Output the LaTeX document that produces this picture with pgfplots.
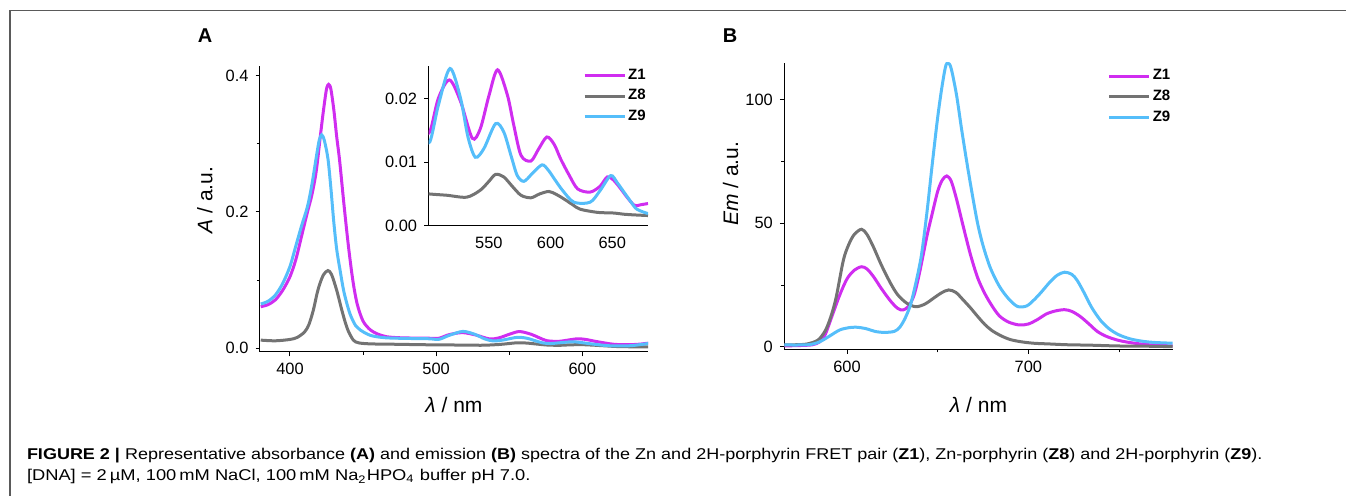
\documentclass[border=0pt]{standalone}
\usepackage{fontspec}
\setmainfont{Liberation Sans}
\usepackage{graphicx}
\usepackage{pgfplots}
\pgfplotsset{compat=1.18}
\usepackage{pgfplotstable}

\definecolor{zone}{RGB}{208,45,240}
\definecolor{zeight}{RGB}{115,115,115}
\definecolor{znine}{RGB}{85,190,250}

% absorbance (A)
\pgfplotstableread{
nm a
380 0.061
385 0.064
390 0.071
395 0.085
400 0.105
404 0.130
408 0.165
412 0.200
415 0.225
418 0.260
421 0.315
423 0.350
425 0.380
426.5 0.387
428 0.380
430 0.350
432 0.310
434 0.275
437 0.210
440 0.150
443 0.100
446 0.065
450 0.040
455 0.027
460 0.021
466 0.017
475 0.0155
485 0.015
495 0.0148
502 0.0148
509 0.0201
518 0.0230
527 0.0196
536.5 0.0138
543 0.0153
550 0.0205
557 0.0246
565 0.0206
570 0.0160
576 0.0111
584 0.0102
590 0.0120
597 0.0140
603 0.0128
608 0.0106
615 0.0080
622 0.0058
632 0.0053
640 0.0062
646 0.0077
651 0.0072
657 0.0058
662 0.0045
668 0.0032
673 0.0033
679 0.0035
}\absZone

\pgfplotstableread{
nm a
380 0.012
390 0.011
400 0.013
405 0.016
410 0.024
413 0.035
416 0.056
418.5 0.080
420.5 0.095
423 0.108
426 0.114
428.5 0.108
432 0.085
435 0.060
437.7 0.039
440 0.025
443.4 0.012
447 0.008
455 0.0065
470 0.006
490 0.0053
502 0.0050
516 0.0048
532 0.0045
543 0.0056
550 0.0070
555.4 0.0081
562 0.0077
569 0.0062
576 0.0048
584 0.0044
591 0.0050
598.7 0.0054
605 0.0049
611 0.0042
618 0.0033
624 0.0026
638 0.0021
651 0.0020
660 0.0018
668 0.0017
679 0.0016
}\absZeight

\pgfplotstableread{
nm a
380 0.065
385 0.069
390 0.078
395 0.095
400 0.120
404 0.150
408 0.180
412 0.208
415 0.240
418 0.280
420 0.305
421.7 0.313
423.5 0.305
426 0.278
428 0.235
430 0.185
432 0.145
434.5 0.112
437 0.082
441 0.051
445 0.033
448 0.027
455 0.019
465 0.0155
480 0.0145
495 0.0140
502 0.0132
509 0.0190
518.4 0.0248
527 0.0201
533 0.0140
539 0.0108
546 0.0122
555.4 0.0161
562 0.0148
568 0.0110
573 0.0079
578.4 0.0070
585 0.0082
593 0.0096
598 0.0088
603 0.0074
610 0.0055
619 0.0037
632 0.0037
640 0.0055
648.7 0.0079
654 0.0068
659.5 0.0053
665 0.0038
670 0.0026
679 0.0019
}\absZnine

% emission (B)
\pgfplotstableread{
nm em
565 0.3
575 0.5
581 0.8
585 2.0
588 5.0
592 13.0
596 21.0
600 27.5
604 31.0
608 32.4
611 31.5
614.5 28.5
619 23.5
624 18.5
628 15.5
631 14.9
634 16.5
637 21.0
640 30.0
644 44.6
647 54.0
650 63.0
652.5 67.5
655 69.2
657.5 67.0
660.5 59.5
664 49.0
668 37.5
672 28.0
676 21.5
680 16.5
684 12.5
689 10.0
695 8.8
700 9.2
705 11.0
710 13.3
715 14.5
720 15.0
724 14.3
728.5 12.3
733 9.5
738 6.2
743 4.2
749 2.7
755 1.8
762 1.1
770 0.6
780 0.3
}\emZone

\pgfplotstableread{
nm em
565 0.7
572 0.8
578 1.1
584 2.7
588 6.5
591 12.0
594 20.0
598 35.1
601 41.5
604 45.5
608 47.6
611 45.5
614.5 40.5
619 33.0
624 25.7
628 21.0
633 17.6
638 16.2
643 17.3
648 19.8
652 21.8
656 23.0
660 22.0
664 19.0
668 15.8
672 12.3
676 9.0
680 6.5
685 4.4
690 2.9
696 2.0
703 1.4
712 1.1
721 0.8
735 0.6
749 0.3
765 0.2
780 0.0
}\emZeight

\pgfplotstableread{
nm em
565 0.7
575 0.7
580 0.9
584 1.7
587 2.8
591 4.6
596 6.8
601 7.7
605 7.9
610 7.4
616 6.1
621 5.8
626 6.2
629 7.8
632 11.5
635 17.0
638 26.0
641 37.0
644 54.0
647 74.0
650 93.0
652.5 106.0
654.6 114.2
656.5 114.5
658 111.0
660.5 101.5
663 89.0
666 75.0
669 62.0
672 50.0
675 41.0
679 32.0
684 24.5
689 19.5
694 16.3
699 16.5
703 18.9
707 22.0
712 26.3
716 29.0
720 30.2
724 29.3
727 26.8
731 21.5
735 15.8
740 10.5
745 7.0
750 4.8
756 3.2
763 2.2
770 1.7
780 1.4
}\emZnine

\pgfplotsset{
  spec/.style={
    scale only axis,
    axis x line*=bottom, axis y line*=left,
    axis line style={line width=0.5pt},
    tick align=outside,
    major tick length=2.2pt, minor tick length=1.5pt,
    tick style={black, line width=0.5pt},
    tick label style={font=\fontsize{8.2}{9}\selectfont},
    /pgf/number format/assume math mode=true,
    scaled ticks=false,
    label style={font=\fontsize{10.5}{12}\selectfont},
    every axis plot/.append style={line width=1.5pt, smooth},
    legend style={draw=none, fill=none, at={(1,0.997)}, anchor=north east,
      inner sep=0pt, row sep=1.6pt, nodes={inner sep=1pt},
      font=\bfseries\fontsize{7.5}{8}\selectfont},
    legend cell align=left,
    legend image code/.code={\draw[##1] (0pt,0pt) -- (20pt,0pt);},
  },
}

\begin{document}
\begin{tikzpicture}
\useasboundingbox (0,0) rectangle (673pt,248pt);

% frame
\draw[color={rgb,255:red,90;green,90;blue,90}, line width=0.7pt]
  (4.9pt,0pt) -- (4.9pt,242.7pt) -- (673pt,242.7pt);

\node[font=\bfseries\fontsize{10}{12}\selectfont] at (102.5pt,230pt) {A};
\node[font=\bfseries\fontsize{10}{12}\selectfont] at (365pt,230pt) {B};

% panel A
\begin{axis}[spec,
  at={(130pt,72pt)}, anchor=south west,
  width=194pt, height=143pt,
  xmin=379.5, xmax=645, ymin=-0.0054, ymax=0.414,
  xtick={400,500,600}, minor xtick={450,550},
  ytick={0,0.2,0.4}, minor ytick={0.1,0.3},
  yticklabel style={/pgf/number format/fixed, /pgf/number format/fixed zerofill, /pgf/number format/precision=1},
  xlabel={\textit{λ} / nm},
  ylabel={\textit{A} / a.u.},
  xlabel style={at={(axis description cs:0.5,-0.185)}, anchor=center},
  ylabel style={at={(axis description cs:-0.142,0.531)}, anchor=center},
]
\addplot[zone] table[x=nm, y=a] {\absZone};
\addplot[zeight] table[x=nm, y=a] {\absZeight};
\addplot[znine] table[x=nm, y=a] {\absZnine};
\end{axis}

% inset
\begin{axis}[spec,
  at={(214.25pt,135.15pt)}, anchor=south west,
  width=109.75pt, height=79.85pt,
  xmin=501, xmax=679, ymin=0, ymax=0.0252,
  xtick={550,600,650}, xtick style={draw=none},
  ytick={0,0.01,0.02},
  yticklabel style={/pgf/number format/fixed, /pgf/number format/fixed zerofill, /pgf/number format/precision=2},
]
\addplot[zone] table[x=nm, y=a] {\absZone};
\addplot[zeight] table[x=nm, y=a] {\absZeight};
\addplot[znine] table[x=nm, y=a] {\absZnine};
\legend{Z1, Z8, Z9}
\end{axis}

% panel B
\begin{axis}[spec,
  at={(392.15pt,73.35pt)}, anchor=south west,
  width=194.2pt, height=143.3pt,
  xmin=565.4, xmax=779.6, ymin=-1.05, ymax=115.1,
  xtick={600,700}, minor xtick={650,750},
  ytick={0,50,100}, minor ytick={25,75},
  xlabel={\textit{λ} / nm},
  ylabel={\textit{Em} / a.u.},
  xlabel style={at={(axis description cs:0.5,-0.194)}, anchor=center},
  ylabel style={at={(axis description cs:-0.138,0.577)}, anchor=center},
  legend style={at={(1,0.985)}},
]
\addplot[zone] table[x=nm, y=em] {\emZone};
\addplot[zeight] table[x=nm, y=em] {\emZeight};
\addplot[znine] table[x=nm, y=em] {\emZnine};
\legend{Z1, Z8, Z9}
\end{axis}

% caption
\node[anchor=base west, inner sep=0pt, font=\fontsize{7.8}{9}\selectfont] at (13.3pt,18pt)
  {\resizebox{617.7pt}{\height}{\textbf{FIGURE 2 |} Representative absorbance \textbf{(A)} and emission \textbf{(B)} spectra of the Zn and 2H-porphyrin FRET pair (\textbf{Z1}), Zn-porphyrin (\textbf{Z8}) and 2H-porphyrin (\textbf{Z9}).}};
\node[anchor=base west, inner sep=0pt, font=\fontsize{7.8}{9}\selectfont] at (13.3pt,7.5pt)
  {\resizebox{251.7pt}{\height}{[DNA] = 2\,µM, 100\,mM NaCl, 100\,mM Na\textsubscript{2}HPO\textsubscript{4} buffer pH 7.0.}};
\end{tikzpicture}
\end{document}
